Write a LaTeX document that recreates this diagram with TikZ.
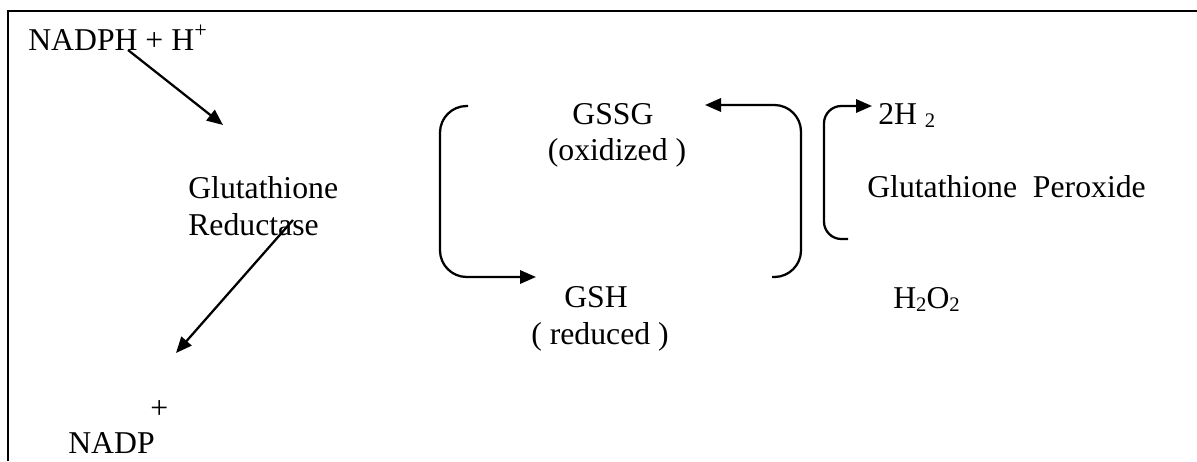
\documentclass[tikz,border=0pt]{standalone}
\usepackage{fontspec}
\setmainfont{Liberation Serif}
\usetikzlibrary{arrows.meta}
% lowered small index, as in H2O2
\newcommand{\lowidx}[1]{\raisebox{-2.5pt}{\fontsize{15.5}{18}\selectfont #1}}
\begin{document}
\begin{tikzpicture}[x=0.75pt,y=-0.75pt,
  lbl/.style={anchor=base west,inner sep=0pt,font=\fontsize{23.8}{28}\selectfont},
  ctr/.style={lbl,anchor=base},
  rxn/.style={line width=1.7pt,-{Triangle[length=12pt,width=10pt]}},
  loopline/.style={rxn,rounded corners=20pt},
  hookline/.style={rxn,rounded corners=13pt}]
\useasboundingbox (0,0) rectangle (1197,461);
% open frame
\draw[line width=1.9pt] (8,461) -- (8,11) -- (1197,11);

% reductase side
\node[lbl] (nadph) at (28,50) {NADPH + H\textsuperscript{+}};
\node[lbl] (gr1) at (188,198) {Glutathione};
\node[lbl] (gr2) at (188,235) {Reductase};
\node[lbl] (plus) at (150,418) {+};
\node[lbl] (nadp) at (68,453) {NADP};

\coordinate (a1s) at (128,50);
\coordinate (a1e) at (223,125);
\coordinate (a2s) at (293,220);
\coordinate (a2e) at (176,353);
\draw[rxn] (a1s) -- (a1e);
\draw[rxn] (a2s) -- (a2e);

% glutathione cycle
\node[ctr] (gssg) at (613,124) {GSSG};
\node[ctr] (ox) at (617,160) {(oxidized )};
\node[ctr] (gsh) at (596,307) {GSH};
\node[ctr] (red) at (600,344) {( reduced )};

\coordinate (l0) at (468,106);
\coordinate (l1) at (440,106);
\coordinate (l2) at (440,277);
\coordinate (l3) at (536,277);
\draw[loopline] (l0) -- (l1) -- (l2) -- (l3);

\coordinate (r0) at (772,277);
\coordinate (r1) at (801,277);
\coordinate (r2) at (801,105);
\coordinate (r3) at (705,105);
\draw[loopline] (r0) -- (r1) -- (r2) -- (r3);

% peroxidase side
\node[lbl] (h2) at (878,124) {2H \lowidx{2}};
\node[lbl] (gpx) at (867,197) {Glutathione\ \ Peroxide};
\node[lbl] (h2o2) at (893,308) {H\lowidx{2}O\lowidx{2}};

\coordinate (p0) at (848,239);
\coordinate (p1) at (824,239);
\coordinate (p2) at (824,106);
\coordinate (p3) at (872,106);
\draw[hookline] (p0) -- (p1) -- (p2) -- (p3);
\end{tikzpicture}
\end{document}
